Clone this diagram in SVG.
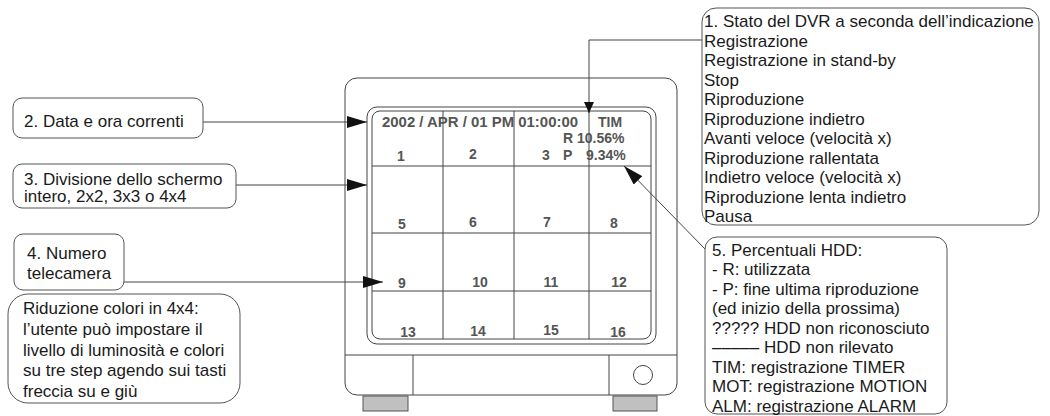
<svg xmlns="http://www.w3.org/2000/svg" width="1050" height="416" viewBox="0 0 1050 416">
<style>
.ln{fill:none;stroke:#444;stroke-width:1}
.box{fill:#fff;stroke:#555;stroke-width:1}
.t{font-family:"Liberation Sans",Arial,sans-serif;font-size:17px;fill:#1a1a1a}
.s{font-family:"Liberation Sans",Arial,sans-serif;font-size:14px;font-weight:bold;fill:#555}
.n{font-family:"Liberation Sans",Arial,sans-serif;font-size:14px;font-weight:bold;fill:#555;text-anchor:middle}
.foot{fill:#c0c0c0;stroke:#555;stroke-width:1}
</style>
<defs>
<marker id="ah" viewBox="0 0 20 12" markerWidth="20" markerHeight="12" refX="20" refY="6" orient="auto" markerUnits="userSpaceOnUse"><path d="M0,0 L20,6 L0,12 Z" fill="#111"/></marker>
<marker id="ahs" viewBox="0 0 11 10" markerWidth="11" markerHeight="10" refX="11" refY="5" orient="auto" markerUnits="userSpaceOnUse"><path d="M0,0 L11,5 L0,10 Z" fill="#111"/></marker>
</defs>
<rect width="1050" height="416" fill="#fff"/>

<g id="monitor">
<rect class="ln" x="345" y="78" width="332" height="317" rx="12"/>
<line class="ln" x1="345" y1="355" x2="677" y2="355"/>
<line class="ln" x1="413" y1="355" x2="413" y2="395"/>
<line class="ln" x1="609" y1="355" x2="609" y2="395"/>
<circle class="ln" cx="643" cy="375" r="9.5"/>
<rect class="foot" x="363" y="396" width="45" height="15"/>
<rect class="foot" x="613" y="396" width="44" height="15"/>
<rect class="ln" x="367" y="107" width="289" height="237" rx="10"/>
<rect class="ln" x="372" y="111" width="279" height="228" rx="8"/>
<line class="ln" x1="443" y1="111" x2="443" y2="339"/>
<line class="ln" x1="514" y1="111" x2="514" y2="339"/>
<line class="ln" x1="589" y1="111" x2="589" y2="339"/>
<line class="ln" x1="372" y1="166" x2="651" y2="166"/>
<line class="ln" x1="372" y1="233" x2="651" y2="233"/>
<line class="ln" x1="372" y1="291" x2="651" y2="291"/>
<text class="s" x="382" y="127" textLength="196" lengthAdjust="spacingAndGlyphs">2002 / APR / 01 PM 01:00:00</text>
<text class="s" x="598" y="127">TIM</text>
<text class="s" x="563" y="143">R 10.56%</text>
<text class="s" x="542" y="160">3</text>
<text class="s" x="563" y="160">P</text>
<text class="s" x="586" y="160">9.34%</text>
<text class="n" x="401" y="161">1</text>
<text class="n" x="473" y="159">2</text>
<text class="n" x="402" y="229">5</text>
<text class="n" x="473" y="227">6</text>
<text class="n" x="547" y="227">7</text>
<text class="n" x="614" y="228">8</text>
<text class="n" x="402" y="288">9</text>
<text class="n" x="480" y="287">10</text>
<text class="n" x="551" y="287">11</text>
<text class="n" x="619" y="287">12</text>
<text class="n" x="408" y="337">13</text>
<text class="n" x="478" y="336">14</text>
<text class="n" x="551" y="335">15</text>
<text class="n" x="618" y="337">16</text>
</g>

<g id="connectors">
<path class="ln" d="M702 40 H589 V113" marker-end="url(#ahs)"/>
<path class="ln" d="M203 122 H367" marker-end="url(#ah)"/>
<path class="ln" d="M236 185 H367" marker-end="url(#ah)"/>
<path class="ln" d="M124 282 H383" marker-end="url(#ah)"/>
<path class="ln" d="M705 249 L624 166" marker-end="url(#ah)"/>
</g>

<g id="box1">
<rect class="box" x="702" y="8" width="337" height="217" rx="14"/>
<text class="t" x="704" y="27">1. Stato del DVR a seconda dell’indicazione</text>
<text class="t" x="704" y="46.5">Registrazione</text>
<text class="t" x="704" y="66">Registrazione in stand-by</text>
<text class="t" x="704" y="85.5">Stop</text>
<text class="t" x="704" y="105">Riproduzione</text>
<text class="t" x="704" y="124.5">Riproduzione indietro</text>
<text class="t" x="704" y="144">Avanti veloce (velocità x)</text>
<text class="t" x="704" y="163.5">Riproduzione rallentata</text>
<text class="t" x="704" y="183">Indietro veloce (velocità x)</text>
<text class="t" x="704" y="202.5">Riproduzione lenta indietro</text>
<text class="t" x="704" y="222">Pausa</text>
</g>

<g id="box2">
<rect class="box" x="13" y="98" width="190" height="40" rx="9"/>
<text class="t" x="24" y="127">2. Data e ora correnti</text>
</g>

<g id="box3">
<rect class="box" x="13" y="164" width="223" height="44" rx="9"/>
<text class="t" x="24" y="185">3. Divisione dello schermo</text>
<text class="t" x="24" y="202">intero, 2x2, 3x3 o 4x4</text>
</g>

<g id="box4">
<rect class="box" x="14" y="234" width="110" height="56" rx="9"/>
<text class="t" x="27" y="259">4. Numero</text>
<text class="t" x="27" y="279">telecamera</text>
</g>

<g id="note">
<rect class="box" x="8" y="294" width="232" height="109" rx="20"/>
<text class="t" x="23" y="314">Riduzione colori in 4x4:</text>
<text class="t" x="23" y="335">l’utente può impostare il</text>
<text class="t" x="23" y="355.5">livello di luminosità e colori</text>
<text class="t" x="23" y="376">su tre step agendo sui tasti</text>
<text class="t" x="23" y="397">freccia su e giù</text>
</g>

<g id="box5">
<rect class="box" x="705" y="237" width="242" height="177" rx="12"/>
<text class="t" x="712" y="255.5">5. Percentuali HDD:</text>
<text class="t" x="712" y="275">- R: utilizzata</text>
<text class="t" x="712" y="294.5">- P: fine ultima riproduzione</text>
<text class="t" x="712" y="314">(ed inizio della prossima)</text>
<text class="t" x="712" y="333.5">????? HDD non riconosciuto</text>
<text class="t" x="712" y="353">––––– HDD non rilevato</text>
<text class="t" x="712" y="372.5">TIM: registrazione TIMER</text>
<text class="t" x="712" y="392">MOT: registrazione MOTION</text>
<text class="t" x="712" y="411.5">ALM: registrazione ALARM</text>
</g>
</svg>
